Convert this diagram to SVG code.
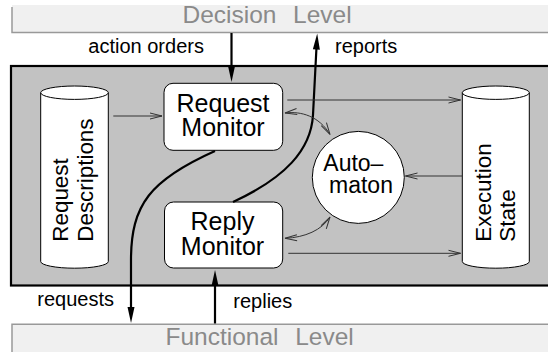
<svg xmlns="http://www.w3.org/2000/svg" width="548" height="352" viewBox="0 0 548 352">
<style>
text{font-family:"Liberation Sans",Arial,Helvetica,sans-serif;fill:#000}
.lvl{font-size:24.5px;fill:#8a8a8a;word-spacing:1.5px}
.lvlbox{fill:#f0f0f0;stroke:none}
.lvledge{fill:none;stroke:#999;stroke-width:1.5}
.node{fill:#fff;stroke:#000;stroke-width:1}
.nt{font-size:25px;text-anchor:middle}
.ct{font-size:22.4px}
.at{font-size:23px}
.lab{font-size:20px}
.thick{fill:none;stroke:#000;stroke-width:2.2}
.thin{fill:none;stroke:#333;stroke-width:1}
</style>
<defs>
<marker id="big" markerUnits="userSpaceOnUse" viewBox="0 0 16 10" markerWidth="16" markerHeight="10" refX="0.5" refY="5" orient="auto" overflow="visible">
<path d="M0,1.5 L16,5 L0,8.5 z" fill="#000"/>
</marker>
<marker id="open" markerUnits="userSpaceOnUse" viewBox="0 0 12 8" markerWidth="12" markerHeight="8" refX="12" refY="4" orient="auto-start-reverse" overflow="visible">
<path d="M0,1 L12,4 L0,7" fill="none" stroke="#333" stroke-width="1"/>
</marker>
</defs>

<g id="decision-level">
<rect class="lvlbox" x="12" y="5" width="540" height="27.7"/>
<path class="lvledge" d="M12,7 V32.5 H552"/>
<text class="lvl" x="182.5" y="22.7" xml:space="preserve">Decision  Level</text>
</g>

<g id="functional-level">
<rect class="lvlbox" x="12" y="324.3" width="540" height="30"/>
<path class="lvledge" d="M12,354 V324.3 H552"/>
<text class="lvl" x="165.5" y="345" xml:space="preserve">Functional  Level</text>
</g>

<g id="supervisor">
<rect x="11" y="66" width="545" height="219.5" fill="#c2c2c2" stroke="#000" stroke-width="2.2"/>
</g>

<g id="request-descriptions">
<path class="node" d="M40.7,92.7 V261.5 A33.8,6.7 0 0 0 108.3,261.5 V92.7"/>
<ellipse class="node" cx="74.5" cy="92.7" rx="33.8" ry="6.7"/>
<text class="ct" transform="translate(68.3,241.7) rotate(-90)">Request</text>
<text class="ct" transform="translate(92.7,241.7) rotate(-90)">Descriptions</text>
</g>

<g id="execution-state">
<path class="node" d="M462.3,92.7 V261.5 A33.5,6.7 0 0 0 529.3,261.5 V92.7"/>
<ellipse class="node" cx="495.8" cy="92.7" rx="33.5" ry="6.7"/>
<text class="ct" transform="translate(490.5,241.7) rotate(-90)">Execution</text>
<text class="ct" transform="translate(514.8,241.7) rotate(-90)">State</text>
</g>

<g id="request-monitor">
<rect class="node" x="164" y="83.3" width="118.7" height="67" rx="9"/>
<text class="nt" x="223" y="111.5">Request</text>
<text class="nt" x="223" y="136">Monitor</text>
</g>

<g id="reply-monitor">
<rect class="node" x="164.5" y="202" width="118.2" height="66" rx="9"/>
<text class="nt" x="222.5" y="230">Reply</text>
<text class="nt" x="222.5" y="255">Monitor</text>
</g>

<g id="automaton">
<circle class="node" cx="358.3" cy="177.4" r="46"/>
<text class="at" x="323.3" y="170.7">Auto–</text>
<text class="at" x="329" y="193.3">maton</text>
</g>

<g id="connectors">
<path class="thick" d="M231.5,33 V66.5" marker-end="url(#big)"/>
<path class="thick" d="M233,202 C285,178 311,150 313,115 L316.4,49" marker-end="url(#big)"/>
<path class="thick" d="M215,151 C150,180 131,205 131,260 V307.5" marker-end="url(#big)"/>
<path class="thick" d="M215,323.5 V285.5" marker-end="url(#big)"/>
<path class="thin" d="M113.3,116 H162" marker-end="url(#open)"/>
<path class="thin" d="M287.3,100 H460.5" marker-end="url(#open)"/>
<path class="thin" d="M288.3,253.3 H460.5" marker-end="url(#open)"/>
<path class="thin" d="M462,176 H405.5" marker-end="url(#open)"/>
<path class="thin" d="M285,113 C301,111 319,116 330,134.5" marker-start="url(#open)" marker-end="url(#open)"/>
<path class="thin" d="M330,217 C322,230 305,237.5 285,238.3" marker-start="url(#open)" marker-end="url(#open)"/>
</g>

<g id="labels">
<text class="lab" x="88.3" y="53.3">action orders</text>
<text class="lab" x="335" y="53.3">reports</text>
<text class="lab" x="37.3" y="305.5">requests</text>
<text class="lab" x="233.3" y="308">replies</text>
</g>
</svg>
